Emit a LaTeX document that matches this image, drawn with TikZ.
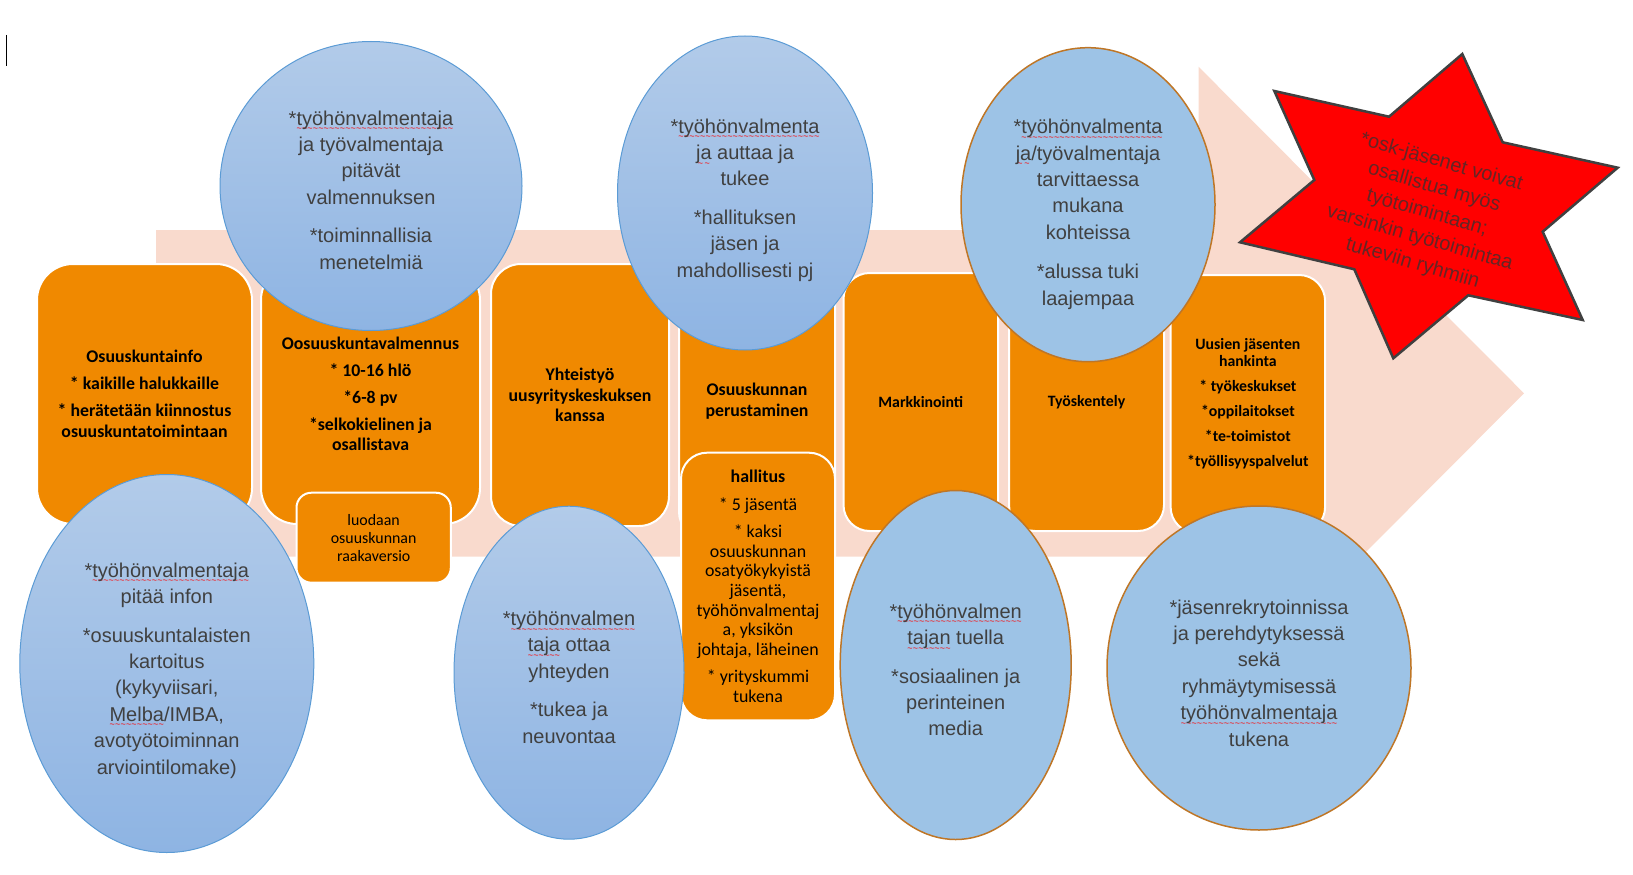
\documentclass[tikz,border=0pt]{standalone}
\usepackage{fontspec}
\setmainfont{Liberation Sans}
\newfontfamily\calibri{Carlito}
\usetikzlibrary{shapes.geometric}

\definecolor{peach}{RGB}{249,218,205}
\definecolor{orangebox}{RGB}{240,137,0}
\definecolor{bluetop}{RGB}{178,203,233}
\definecolor{bluebot}{RGB}{142,180,227}
\definecolor{blueline}{RGB}{91,155,213}
\definecolor{blueflat}{RGB}{157,195,230}
\definecolor{brownline}{RGB}{191,118,38}
\definecolor{txtgray}{RGB}{64,64,64}
\definecolor{startxt}{RGB}{100,38,38}

\newcommand{\spell}[1]{\leavevmode\setbox0\hbox{#1}\rlap{\lower6.5pt\hbox to\wd0{\color{red}\fontsize{9}{9}\selectfont\xleaders\hbox{\char"7E}\hfil}}\box0\relax}

\begin{document}
\begin{tikzpicture}[x=1pt, y=-1pt,
	box/.style={draw=white, line width=2pt, fill=orangebox, rounded corners=#1, anchor=north west, inner sep=0pt, align=center, font=\calibri\bfseries\fontsize{17.8}{20.5}\selectfont},
	ovalbase/.style={ellipse, inner sep=0pt},
	bubble/.style={ovalbase, draw=blueline, line width=1pt, top color=bluetop, bottom color=bluebot},
	flatbubble/.style={ovalbase, draw=brownline, line width=1.5pt, fill=blueflat},
	words/.style={align=center, text=txtgray, inner sep=0pt, font=\fontsize{20}{26.4}\selectfont},
	startext/.style={align=center, text=startxt, inner sep=0pt, font=\fontsize{20}{26.3}\selectfont}]
			\useasboundingbox (0,0) rectangle (1633,875);
			\draw[line width=1pt] (6.5,35) -- (6.5,66);
			\fill[peach] (156,230) -- (1198.5,230) -- (1198.5,66.7) -- (1524,393.3) -- (1198.5,720) -- (1198.5,556.7) -- (156,556.7) -- cycle;
			
			\node[box=36, minimum width=215pt, minimum height=260pt] (a) at (36,263) {Osuuskuntainfo\\[6.5pt] * kaikille halukkaille\\[6.5pt] * herätetään kiinnostus\\ osuuskuntatoimintaan};
			\node[box=36, minimum width=219pt, minimum height=260pt] (b) at (260,263) {Oosuuskuntavalmennus\\[6.5pt] * 10-16 hlö\\[6.5pt] *6-8 pv\\[6.5pt] *selkokielinen ja\\ osallistava};
			\node[box=30, minimum width=178pt, minimum height=262pt] (c) at (490,263) {Yhteistyö\\ uusyrityskeskuksen\\ kanssa};
			\node[box=26, minimum width=156pt, minimum height=274pt] (d) at (678,263) {Osuuskunnan\\ perustaminen};
			\node[box=26, minimum width=154.5pt, minimum height=258pt, font=\calibri\bfseries\fontsize{15.8}{17}\selectfont] (e) at (842.5,272) {Markkinointi};
			\node[box=26, minimum width=155pt, minimum height=258pt, font=\calibri\bfseries\fontsize{15.8}{17}\selectfont] (f) at (1008,272) {Työskentely};
			\node[box=26, minimum width=154.5pt, minimum height=258pt, font=\calibri\bfseries\fontsize{15.8}{17}\selectfont] (g) at (1169.6,274) {Uusien jäsenten\\ hankinta\\[8pt] * työkeskukset\\[8pt] *oppilaitokset\\[8pt] *te-toimistot\\[8pt] *työllisyyspalvelut};
			\node[box=15, minimum width=154.3pt, minimum height=90pt, font=\calibri\fontsize{15.9}{18}\selectfont] (h) at (295.5,491.7) {luodaan\\ osuuskunnan\\ raakaversio};
			\node[box=26, minimum width=154pt, minimum height=267.6pt, font=\calibri\fontsize{17.9}{19.7}\selectfont] (i) at (680,451.7) {\textbf{hallitus}\\[7.6pt] * 5 jäsentä\\[7.6pt] * kaksi\\ osuuskunnan\\ osatyökykyistä\\ jäsentä,\\ työhönvalmentaj\\ a, yksikön\\ johtaja, läheinen\\[7.6pt] * yrityskummi\\ tukena};
			
			\node[bubble, minimum width=302pt, minimum height=289pt] (e1) at (371,186) {};
			\node[words, yshift=-4pt] (t1) at (e1) {*\spell{työhönvalmentaja}\\ ja työvalmentaja\\ pitävät\\ valmennuksen\\[12pt] *toiminnallisia\\ menetelmiä};
			\node[bubble, minimum width=255pt, minimum height=314pt] (e2) at (745,193) {};
			\node[words, yshift=-7pt] (t2) at (e2) {*\spell{työhönvalmenta}\\ \spell{ja} auttaa ja\\ tukee\\[12pt] *hallituksen\\ jäsen ja\\ mahdollisesti pj};
			\node[flatbubble, minimum width=254pt, minimum height=314pt] (e3) at (1088,204.7) {};
			\node[words, yshift=-9.5pt] (t3) at (e3) {*\spell{työhönvalmenta}\\ \spell{ja}/työvalmentaja\\ tarvittaessa\\ mukana\\ kohteissa\\[13pt] *alussa tuki\\ laajempaa};
			\node[bubble, minimum width=294pt, minimum height=378pt] (e4) at (166.8,663.5) {};
			\node[words, yshift=-7pt] (t4) at (e4) {*\spell{työhönvalmentaja}\\ pitää infon\\[12pt] *osuuskuntalaisten\\ kartoitus\\ (kykyviisari,\\ \spell{Melba}/IMBA,\\ avotyötoiminnan\\ arviointilomake)};
			\node[bubble, minimum width=230pt, minimum height=333pt] (e5) at (569,672.7) {};
			\node[words, yshift=-4.5pt] (t5) at (e5) {*\spell{työhönvalmen}\\ \spell{taja} ottaa\\ yhteyden\\[12pt] *tukea ja\\ neuvontaa};
			\node[flatbubble, minimum width=231pt, minimum height=349pt] (e6) at (955.7,665) {};
			\node[words, yshift=-5pt] (t6) at (e6) {*\spell{työhönvalmen}\\ \spell{tajan} tuella\\[12pt] *sosiaalinen ja\\ perinteinen\\ media};
			\node[flatbubble, minimum width=304pt, minimum height=324pt] (e7) at (1259,668) {};
			\node[words, yshift=-5pt] (t7) at (e7) {*jäsenrekrytoinnissa\\ ja perehdytyksessä\\ sekä\\ ryhmäytymisessä\\ \spell{työhönvalmentaja}\\ tukena};
			
			\draw[fill=red, draw=txtgray, line width=2.5pt] (1462.3,54) -- (1502.7,142.3) -- (1617.7,167.7) -- (1542.7,231.7) -- (1582.7,320) -- (1468.3,295.3) -- (1393.3,358.3) -- (1354.3,269.3) -- (1240,242.3) -- (1314.3,180) -- (1274.3,91) -- (1389,116.7) -- cycle;
			\node[startext, rotate=-16] (s) at (1427,213) {*osk-jäsenet voivat\\ osallistua myös\\ työtoimintaan;\\ varsinkin työtoimintaa\\ tukeviin ryhmiin};
\end{tikzpicture}
\end{document}
